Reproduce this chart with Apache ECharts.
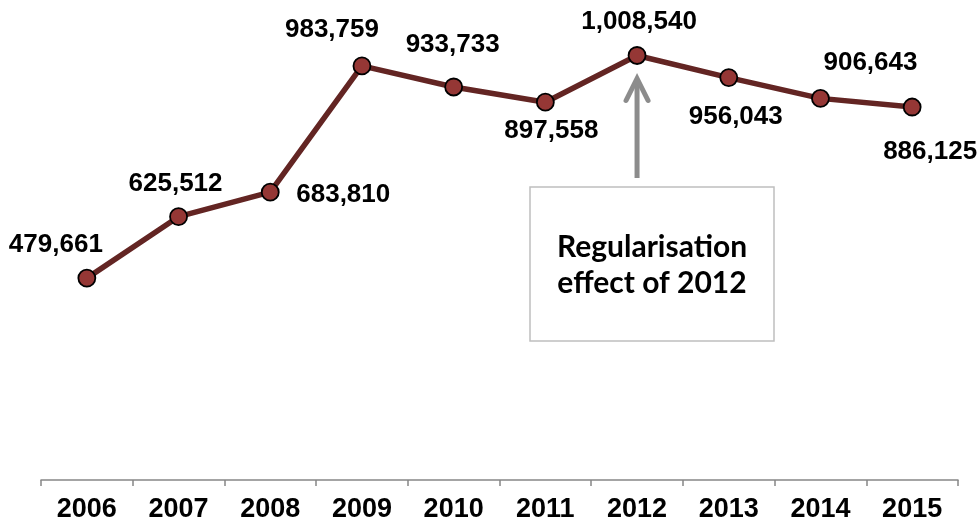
<!DOCTYPE html>
<html>
<head>
<meta charset="utf-8">
<script src="https://cdn.jsdelivr.net/npm/echarts@6/dist/echarts.min.js"></script>
<style>
html,body{margin:0;padding:0;background:#fff;}
#main{width:979px;height:523px;}
</style>
</head>
<body>
<div id="main"></div>
<script>
const years = ['2006','2007','2008','2009','2010','2011','2012','2013','2014','2015'];
const values = [479661, 625512, 683810, 983759, 933733, 897558, 1008540, 956043, 906643, 886125];
const annotationText = 'Regularisation\neffect of 2012';
const annotationYear = '2012';

// label placement (layout only): [dx, dy] from the point centre
const labelOffsets = [[-31,-33],[-3,-33],[73,3],[-30,-36],[-1,-42],[6,29],[2,-34],[7,39],[50,-36],[18,45]];

const chart = echarts.init(document.getElementById('main'));
const fmt = v => v.toLocaleString('en-US');

chart.setOption({
  animation: false,
  grid: {left: 41, right: 21, top: 17, bottom: 42},
  xAxis: {
    type: 'category',
    data: years,
    boundaryGap: true,
    axisLine: {lineStyle: {color: '#868686', width: 1.5}},
    axisTick: {show: true, length: 6, lineStyle: {color: '#868686', width: 1.5}},
    axisLabel: {color: '#000', fontFamily: 'Liberation Sans, Arial', fontWeight: 'bold', fontSize: 27, margin: 16}
  },
  yAxis: {
    type: 'value', min: 0, max: 1100000, show: false,
    splitLine: {show: false}
  },
  series: [{
    type: 'line',
    data: values.map((v, i) => ({
      value: v,
      label: {offset: labelOffsets[i]}
    })),
    symbol: 'circle',
    symbolSize: 17,
    lineStyle: {color: '#632523', width: 5.5},
    itemStyle: {color: '#953735', borderColor: '#000', borderWidth: 1.8},
    label: {
      show: true, position: 'inside',
      formatter: p => fmt(p.value),
      color: '#000', fontFamily: 'Liberation Sans, Arial', fontWeight: 'bold', fontSize: 26
    },
    z: 3
  }]
});

function drawAnnotation() {
  const idx = years.indexOf(annotationYear);
  const pt = chart.convertToPixel({gridIndex: 0}, [idx, values[idx]]);
  const x = pt[0];
  const tipY = pt[1] + 22;
  const baseY = 178;
  chart.setOption({
    graphic: [
      {type: 'line', shape: {x1: x, y1: baseY, x2: x, y2: tipY + 2},
       style: {stroke: '#8c8c8c', lineWidth: 5}, z: 10},
      {type: 'polyline', shape: {points: [[x - 11, tipY + 23], [x, tipY + 1], [x + 11, tipY + 23]]},
       style: {stroke: '#8c8c8c', lineWidth: 5, fill: null, lineJoin: 'miter', lineCap: 'round'}, z: 10},
      {type: 'rect', shape: {x: 530, y: 187, width: 244, height: 154},
       style: {fill: '#fff', stroke: '#bfbfbf', lineWidth: 1.5}, z: 10},
      {type: 'text', x: 652, y: 265, z: 11,
       style: {text: annotationText, fill: '#000', font: 'bold 30px Lato, "Open Sans", sans-serif',
               align: 'center', verticalAlign: 'middle', lineHeight: 36}}
    ]
  });
}
drawAnnotation();
</script>
</body>
</html>
